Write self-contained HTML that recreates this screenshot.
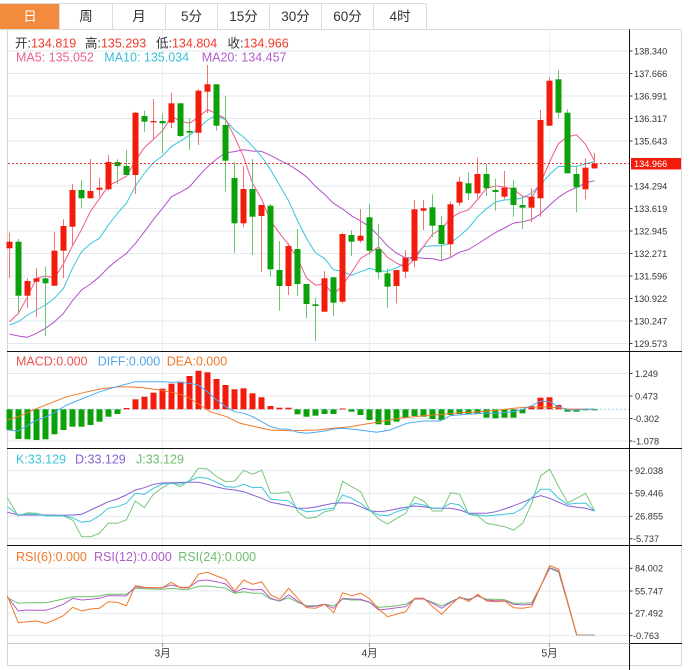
<!DOCTYPE html>
<html><head><meta charset="utf-8">
<style>
html,body{margin:0;padding:0;background:#fff;}
body{width:692px;height:670px;overflow:hidden;}
svg{display:block;font-family:"Liberation Sans","Noto Sans CJK SC",sans-serif;}
</style></head><body>
<svg id="s" width="692" height="670" viewBox="0 0 692 670" xmlns="http://www.w3.org/2000/svg">
<rect width="692" height="670" fill="#fff"/>
<!-- tabs -->
<rect x="0" y="3" width="59.5" height="26.5" fill="#f28b3d"/>
<g stroke="#dcdcdc" stroke-width="1">
<line x1="0" y1="3.5" x2="426.5" y2="3.5"/>
<line x1="59.5" y1="3" x2="59.5" y2="29"/>
<line x1="112.5" y1="3" x2="112.5" y2="29"/>
<line x1="165.5" y1="3" x2="165.5" y2="29"/>
<line x1="217.5" y1="3" x2="217.5" y2="29"/>
<line x1="269.5" y1="3" x2="269.5" y2="29"/>
<line x1="321.5" y1="3" x2="321.5" y2="29"/>
<line x1="373.5" y1="3" x2="373.5" y2="29"/>
<line x1="426.5" y1="3" x2="426.5" y2="29"/>
<line x1="0" y1="29.5" x2="681.5" y2="29.5"/>
</g>
<g font-size="13.5" text-anchor="middle" fill="#333">
<text x="30" y="21" fill="#fff">日</text>
<text x="86" y="21">周</text>
<text x="139" y="21">月</text>
<text x="191.5" y="21">5分</text>
<text x="243.5" y="21">15分</text>
<text x="295.5" y="21">30分</text>
<text x="347.5" y="21">60分</text>
<text x="400" y="21">4时</text>
</g>

<!-- frame -->
<g stroke="#d8d8d8" stroke-width="1" fill="none">
<line x1="7.5" y1="29.5" x2="7.5" y2="666"/>
<line x1="681.5" y1="29.5" x2="681.5" y2="666"/>
<line x1="7" y1="665.5" x2="682" y2="665.5"/>
</g>

<!-- main grid -->
<g stroke="#e2eaef" stroke-width="1">
<line x1="8" y1="51" x2="629" y2="51"/>
<line x1="8" y1="73.5" x2="629" y2="73.5"/>
<line x1="8" y1="96" x2="629" y2="96"/>
<line x1="8" y1="118.5" x2="629" y2="118.5"/>
<line x1="8" y1="141" x2="629" y2="141"/>
<line x1="8" y1="186" x2="629" y2="186"/>
<line x1="8" y1="208.5" x2="629" y2="208.5"/>
<line x1="8" y1="231" x2="629" y2="231"/>
<line x1="8" y1="253.5" x2="629" y2="253.5"/>
<line x1="8" y1="276" x2="629" y2="276"/>
<line x1="8" y1="298.5" x2="629" y2="298.5"/>
<line x1="8" y1="321" x2="629" y2="321"/>
<line x1="8" y1="343.5" x2="629" y2="343.5"/>
<line x1="8" y1="373.5" x2="629" y2="373.5"/>
<line x1="8" y1="396" x2="629" y2="396"/>
<line x1="8" y1="418.5" x2="629" y2="418.5"/>
<line x1="8" y1="441" x2="629" y2="441"/>
<line x1="8" y1="470.7" x2="629" y2="470.7"/>
<line x1="8" y1="493.3" x2="629" y2="493.3"/>
<line x1="8" y1="516.3" x2="629" y2="516.3"/>
<line x1="8" y1="538.7" x2="629" y2="538.7"/>
<line x1="8" y1="568.3" x2="629" y2="568.3"/>
<line x1="8" y1="591" x2="629" y2="591"/>
<line x1="8" y1="613.3" x2="629" y2="613.3"/>
<line x1="8" y1="635.7" x2="629" y2="635.7"/>
</g>
<g stroke="#e8eef1" stroke-width="1">
<line x1="162.5" y1="30" x2="162.5" y2="643"/>
<line x1="369.5" y1="30" x2="369.5" y2="643"/>
<line x1="549.5" y1="30" x2="549.5" y2="643"/>
</g>

<!-- MA lines -->
<g id="ma" fill="none" stroke-width="1"></g>
<!-- candles -->
<g id="candles"></g>

<!-- current price line -->
<line x1="8" y1="163.5" x2="629" y2="163.5" stroke="#e23a2a" stroke-width="1" stroke-dasharray="2,2"/>

<!-- header texts -->
<g font-size="12.5">
<text x="15" y="47.5"><tspan fill="#333">开:</tspan><tspan fill="#f03a2a">134.819</tspan></text>
<text x="85" y="47.5"><tspan fill="#333">高:</tspan><tspan fill="#f03a2a">135.293</tspan></text>
<text x="156" y="47.5"><tspan fill="#333">低:</tspan><tspan fill="#f03a2a">134.804</tspan></text>
<text x="227.5" y="47.5"><tspan fill="#333">收:</tspan><tspan fill="#f03a2a">134.966</tspan></text>
<text x="16" y="61.5" fill="#ea5f8c">MA5: 135.052</text>
<text x="104.3" y="61.5" fill="#3bbfd8">MA10: 135.034</text>
<text x="201.7" y="61.5" fill="#b05ec8">MA20: 134.457</text>
</g>

<!-- MACD -->
<line x1="8" y1="409.3" x2="629" y2="409.3" stroke="#8fd0ea" stroke-width="1" stroke-dasharray="2,2"/>
<g id="macd"></g>
<polyline fill="none" stroke="#f07828" stroke-width="1" points="7.3,420 18.3,416.7 33.3,410 50,403.3 66.7,396.7 83.3,392.7 100,389 116.7,387 126.7,386.7 143.3,387.7 160,390 176.7,393.3 186.7,396.7 200,405 210,411.7 226.7,416.7 240,423.3 260,427.7 270,430 290,430.7 316.7,430 333.3,428.3 350,426.7 360,425 380,421.7 400,418.3 423.3,415.7 443.3,414.3 460,412.7 480,411.7 500,410 513.3,408.3 526.7,407.3 540,406.7 553.3,407.3 567.7,409 594.7,409.3"/>
<polyline fill="none" stroke="#4ea8f0" stroke-width="1" points="7.3,430 18.3,431 33.3,421.7 50,415 66.7,405 83.3,398.3 100,391.7 116.7,386.7 135,381.7 162.3,381.7 171.3,382.3 180.3,382.3 189.3,383.3 198.3,385 207.3,391.7 216.7,400 225.7,406.7 234.7,411.7 243.7,413.3 252.7,416.7 261.7,421.7 270.7,426.7 279.7,429 288.7,429.3 297.7,432.3 306.7,433.3 315.7,432.3 324.7,431 333.7,429 342.7,428.3 360,430 376.7,432.3 390,430 406.7,423.3 423.3,421 440,421 450,415.7 466.7,414.3 483.3,413.3 500,413 513.3,411.7 522.7,409.3 531.7,405.7 540.7,401 549.7,401.7 558.7,406.7 567.7,410 576.7,410 585.7,409.3 594.7,409"/>
<g font-size="12.5">
<text x="16" y="365.7" fill="#ef4f4f">MACD:0.000</text>
<text x="97.7" y="365.7" fill="#4ea8f0">DIFF:0.000</text>
<text x="166.7" y="365.7" fill="#f07828">DEA:0.000</text>
</g>

<!-- KDJ -->
<polyline fill="none" stroke="#7bc67b" stroke-width="1" points="7.3,497.7 18.3,516 27.3,512.7 36.7,513.3 45.7,515.7 63.3,516 72.7,520 81.7,536.7 90.7,536.7 99.3,533.3 108.3,523.3 117.3,523.3 126.3,520 135.3,501 144.3,507.7 153.3,494.3 162.3,487.7 171.3,482.7 180.3,486.7 189.3,480.7 198.3,468.3 207.3,469 216.7,476.7 225.7,481.7 234.7,481 243.7,470.3 252.7,474.3 261.7,470 270.7,493.3 279.7,493.3 288.7,491.7 297.7,511.7 306.7,518.3 315.7,517.3 324.7,511.7 333.7,510 342.7,481.3 351.7,486.7 360.7,491.7 369.7,510 378.7,519 387.7,524 396.7,518.3 405.7,513.3 414.7,496.7 423.7,501 432.7,511 441.7,511 450.7,492.7 459.7,494.3 468.7,514.3 477.7,515.7 486.7,523.3 495.7,525 504.7,526.7 513.7,530 522.7,523.3 531.7,503.3 540.7,475.7 549.7,469.3 558.7,486.7 567.7,502.7 576.7,498.3 585.7,493.3 594.7,511"/>
<polyline fill="none" stroke="#8a5ed2" stroke-width="1" points="7.3,512.3 18.3,515 36.7,515 63.3,515.3 72.7,515 81.7,514.3 90.7,510 99.3,506 108.3,501.7 117.3,499 126.3,495 135.3,490 144.3,487.7 153.3,484.3 162.3,483 171.3,482.7 189.3,482.3 198.3,482.3 207.3,484.3 216.7,487 225.7,489 234.7,490 243.7,491.7 252.7,495 261.7,498.3 270.7,502.3 279.7,504 288.7,505.7 297.7,508.3 306.7,508.3 315.7,507 324.7,505 333.7,503.3 342.7,502.7 351.7,503.3 360.7,506.7 369.7,510.7 378.7,511.7 387.7,510.7 396.7,509 405.7,507.3 414.7,506 423.7,506.7 432.7,508.3 441.7,508.3 450.7,508.3 459.7,510 468.7,513.3 477.7,513.3 486.7,513.3 495.7,511.7 504.7,509 513.7,505.7 522.7,502.3 531.7,498.3 540.7,495.7 549.7,498.3 558.7,502.3 567.7,506 576.7,507.3 585.7,508.3 594.7,511"/>
<polyline fill="none" stroke="#3cc6dc" stroke-width="1" points="7.3,506.7 18.3,515 27.3,514 36.7,514.3 45.7,515.7 54.3,515.7 63.3,515.7 72.7,517.7 81.7,522.3 90.7,521 99.3,515.7 108.3,508.3 117.3,506.7 126.3,503.3 135.3,493.3 144.3,494.3 153.3,488.3 162.3,484 171.3,483.3 180.3,484.3 189.3,481 198.3,477.3 207.3,478.3 216.7,482.3 225.7,486.7 234.7,487.3 243.7,484.3 252.7,487.7 261.7,487.3 270.7,499.3 279.7,500 288.7,501 297.7,508.3 306.7,511.7 315.7,511 324.7,509.3 333.7,508.3 342.7,495 351.7,498.3 360.7,503.3 369.7,510.7 378.7,515 387.7,515.7 396.7,511.7 405.7,509 414.7,503.3 423.7,505 432.7,508.3 441.7,508.3 450.7,503.3 459.7,505 468.7,514 477.7,515 486.7,516 495.7,515 504.7,514.3 513.7,513.3 522.7,508.3 531.7,497.7 540.7,489.3 549.7,489.3 558.7,498.3 567.7,504.3 576.7,503.3 585.7,503.3 594.7,511"/>
<g font-size="12.5">
<text x="16" y="463.3" fill="#3cc6dc">K:33.129</text>
<text x="75" y="463.3" fill="#8a5ed2">D:33.129</text>
<text x="136" y="463.3" fill="#6cbf6c">J:33.129</text>
</g>

<!-- RSI -->
<polyline fill="none" stroke="#6cbf6c" stroke-width="1" points="7.3,597.7 18.3,603.3 27.3,602.7 45.7,602.7 54.3,601 63.3,599 72.7,596.7 90.7,596.7 99.3,596 108.3,594.3 126.3,594.3 135.3,588.3 144.3,588.7 153.3,589 162.3,589.3 171.3,588.3 180.3,589.3 189.3,589.3 198.3,586.3 207.3,586 216.7,587 225.7,588.3 234.7,593.3 243.7,591.7 252.7,593.3 261.7,593.3 270.7,599 279.7,601 288.7,597.7 297.7,602.3 306.7,605.7 315.7,605.7 324.7,604.3 333.7,606 342.7,599 351.7,600 360.7,600 369.7,602.3 378.7,607.3 387.7,606.7 396.7,605.7 405.7,604.3 414.7,599 423.7,599 432.7,602.3 441.7,606 450.7,601.7 459.7,597.7 468.7,599.3 477.7,596 486.7,599.3 495.7,599.3 504.7,599.7 513.7,603.3 522.7,603.3 531.7,602.7 540.7,586 549.7,568.3 558.7,572.3 567.7,603.3 576.7,635 594.7,635"/>
<polyline fill="none" stroke="#b05cc8" stroke-width="1" points="7.3,596.7 18.3,611 27.3,610 36.7,610.3 45.7,610.3 54.3,607.7 63.3,604.3 72.7,598.3 81.7,600 90.7,599.3 99.3,598.3 108.3,595.7 117.3,595.7 126.3,596 135.3,586.7 144.3,587.7 162.3,587.7 171.3,585 180.3,587.3 189.3,587.3 198.3,580.7 207.3,580 216.7,581.7 225.7,584 234.7,592.3 243.7,588.3 252.7,590 261.7,589.3 270.7,598.3 279.7,601 288.7,595 297.7,601 306.7,606.7 315.7,606.3 324.7,604.3 333.7,608.3 342.7,598.3 351.7,599 360.7,599.3 369.7,602.3 378.7,610 387.7,609 396.7,607.7 405.7,606.7 414.7,599 423.7,599 432.7,603.3 441.7,608.3 450.7,602.3 459.7,597.7 468.7,600 477.7,595.7 486.7,600 495.7,600.7 504.7,600.7 513.7,604.3 522.7,605 531.7,604.3 540.7,586 549.7,567.7 558.7,571 567.7,602.3 576.7,635 594.7,635"/>
<polyline fill="none" stroke="#f07828" stroke-width="1" points="7.3,595.7 18.3,622.7 27.3,621.7 36.7,621 45.7,623.3 54.3,620 63.3,615.7 72.7,607.3 81.7,611 90.7,609 99.3,608.3 108.3,601.7 117.3,602.3 126.3,605.7 135.3,585.7 144.3,587.3 153.3,587.7 162.3,587.7 171.3,582.3 180.3,587.7 189.3,587.7 198.3,574.3 207.3,572.3 216.7,576 225.7,579.3 234.7,591 243.7,580 252.7,584.3 261.7,581.7 270.7,595 279.7,599.3 288.7,588.3 297.7,598.3 306.7,607.7 315.7,608.3 324.7,604.3 333.7,612.7 342.7,592.7 351.7,595.7 360.7,593.3 369.7,599 378.7,609 387.7,616.7 396.7,614 405.7,611.7 414.7,598.3 423.7,598.3 432.7,606.7 441.7,614.3 450.7,605 459.7,596.7 468.7,601.7 477.7,594.3 486.7,601 495.7,601.7 504.7,601 513.7,607.7 522.7,608.3 531.7,606.7 540.7,586 549.7,565.7 558.7,569.3 567.7,601.7 576.7,635 594.7,635"/>
<line x1="576.7" y1="635" x2="594.7" y2="635" stroke="#b0ada0" stroke-width="1.2"/>
<g font-size="12.5">
<text x="16" y="561" fill="#f07828">RSI(6):0.000</text>
<text x="94" y="561" fill="#b05cc8">RSI(12):0.000</text>
<text x="178.3" y="561" fill="#6cbf6c">RSI(24):0.000</text>
</g>

<!-- separators -->
<g stroke="#111" stroke-width="1">
<line x1="7" y1="351.5" x2="682" y2="351.5"/>
<line x1="7" y1="448.5" x2="682" y2="448.5"/>
<line x1="7" y1="545.5" x2="682" y2="545.5"/>
<line x1="629.5" y1="643.5" x2="682" y2="643.5"/>
<line x1="629.5" y1="29.5" x2="629.5" y2="670"/>
</g>
<line x1="7" y1="643.5" x2="629.5" y2="643.5" stroke="#c8c8c8" stroke-width="1"/>

<!-- x axis -->
<g stroke="#999" stroke-width="1">
<line x1="162.5" y1="643" x2="162.5" y2="647"/>
<line x1="369.5" y1="643" x2="369.5" y2="647"/>
<line x1="549.5" y1="643" x2="549.5" y2="647"/>
</g>
<g font-size="10.5" fill="#333" text-anchor="middle">
<text x="162.5" y="656.5">3月</text>
<text x="369.5" y="656.5">4月</text>
<text x="549.5" y="656.5">5月</text>
</g>

<!-- y axis ticks -->
<g stroke="#333" stroke-width="1">
<line x1="629" y1="51" x2="632.5" y2="51"/>
<line x1="629" y1="73.5" x2="632.5" y2="73.5"/>
<line x1="629" y1="96" x2="632.5" y2="96"/>
<line x1="629" y1="118.5" x2="632.5" y2="118.5"/>
<line x1="629" y1="141" x2="632.5" y2="141"/>
<line x1="629" y1="186" x2="632.5" y2="186"/>
<line x1="629" y1="208.5" x2="632.5" y2="208.5"/>
<line x1="629" y1="231" x2="632.5" y2="231"/>
<line x1="629" y1="253.5" x2="632.5" y2="253.5"/>
<line x1="629" y1="276" x2="632.5" y2="276"/>
<line x1="629" y1="298.5" x2="632.5" y2="298.5"/>
<line x1="629" y1="321" x2="632.5" y2="321"/>
<line x1="629" y1="343.5" x2="632.5" y2="343.5"/>
<line x1="629" y1="373.5" x2="632.5" y2="373.5"/>
<line x1="629" y1="396" x2="632.5" y2="396"/>
<line x1="629" y1="418.5" x2="632.5" y2="418.5"/>
<line x1="629" y1="441" x2="632.5" y2="441"/>
<line x1="629" y1="470.7" x2="632.5" y2="470.7"/>
<line x1="629" y1="493.3" x2="632.5" y2="493.3"/>
<line x1="629" y1="516.3" x2="632.5" y2="516.3"/>
<line x1="629" y1="538.7" x2="632.5" y2="538.7"/>
<line x1="629" y1="568.3" x2="632.5" y2="568.3"/>
<line x1="629" y1="591" x2="632.5" y2="591"/>
<line x1="629" y1="613.3" x2="632.5" y2="613.3"/>
<line x1="629" y1="635.7" x2="632.5" y2="635.7"/>
</g>
<g font-size="9.2" fill="#333">
<text x="634" y="54.3">138.340</text>
<text x="634" y="76.8">137.666</text>
<text x="634" y="99.3">136.991</text>
<text x="634" y="121.8">136.317</text>
<text x="634" y="144.3">135.643</text>
<text x="634" y="189.3">134.294</text>
<text x="634" y="211.8">133.619</text>
<text x="634" y="234.3">132.945</text>
<text x="634" y="256.8">132.271</text>
<text x="634" y="279.3">131.596</text>
<text x="634" y="301.8">130.922</text>
<text x="634" y="324.3">130.247</text>
<text x="634" y="346.8">129.573</text>
<text x="635" y="376.8">1.249</text>
<text x="635" y="399.3">0.473</text>
<text x="633" y="421.8">-0.302</text>
<text x="633" y="444.3">-1.078</text>
<text x="635" y="474">92.038</text>
<text x="635" y="496.6">59.446</text>
<text x="635" y="519.6">26.855</text>
<text x="633" y="542">-5.737</text>
<text x="635" y="571.6">84.002</text>
<text x="635" y="594.3">55.747</text>
<text x="635" y="616.6">27.492</text>
<text x="633" y="639">-0.763</text>
</g>
<rect x="631" y="158" width="50" height="11.5" fill="#f21b0c"/>
<text x="634" y="167" font-size="9.2" fill="#fff">134.966</text>
</svg>
<script>
(function(){
var C=[
['r',248.3,241.7,232.7,278.3],['g',241.7,295.7,239,313.3],['r',295.7,281,278.3,308.3],['r',281.7,278.3,268.3,317.3],
['g',278.3,283.3,266.7,336],['r',285.7,250.7,231.7,285.7],['r',250.7,226,219.3,278.3],['r',226.7,190,184,245],
['g',190,198.3,180,208.3],['r',198.3,191,159,198.3],['r',189.7,187.7,177.7,196.7],['r',189.3,162,155,190.7],
['g',162,166,159.3,184],['g',166,175,150,175],['r',175,112.7,111.7,194],['g',116,121.7,110.7,131.7],
['r',122,121,99,139],['g',121,123.3,113.3,153.3],['r',122.7,103.3,92.7,128.3],['g',103.3,136,103.3,137.3],
['g',131,132.7,118.3,150],['r',132.7,90.7,89,145],['r',91.7,84.3,65,113.3],['g',84.3,125.7,84.3,130.7],
['g',125,160.7,96,191.7],['g',178,223.3,161.7,252.7],['r',223.3,189,166,227.3],['g',189,216.7,159,255],
['r',216,205,205,271.7],['g',205.7,269.3,204,276.7],['g',270,286,241,310.7],['r',286,246,242.7,295],
['g',249,284,229,296],['g',284,304,284,318.3],['g',304.3,306,297.7,341],['r',311.7,278.3,271,312.3],
['g',277.3,302.7,276.7,316],['r',301.7,234,232.7,303.3],['g',235,241.7,230,256],['r',240.7,235.7,209,242.7],
['g',217.3,250.7,204,255],['g',249,272.3,224,279],['g',273.3,286.7,268.3,307.7],['r',286,270,270,303.3],
['r',271.7,257.7,250,278.3],['r',260.7,209.3,200,267.3],['r',210.7,208.3,200,230],['g',207.3,225.7,194.3,237.3],
['g',225,244,216,260],['r',244.3,204.3,201.7,256.7],['r',202.7,181.7,176.7,205.7],['g',183.3,193.3,172.3,200],
['r',193.3,174,157.7,198.3],['g',174,188.3,164,196],['g',190,192,179,210.7],['r',196.7,187.7,171,199.3],
['g',187.7,205,180,216.7],['g',205,207.7,196.7,229],['r',207.7,196.7,188.3,222.3],['r',198.3,120,110,216.7],
['r',125.7,80.7,77.3,125.7],['g',79.3,112.7,70,118.3],['g',112.7,173.3,109.3,173.3],['g',174,187.3,166,212.3],
['r',189.3,167.7,158.3,199.3],['r',168.4,163.5,152.7,168.7]
];
var NS='http://www.w3.org/2000/svg';
function el(tag,attrs,parent){var e=document.createElementNS(NS,tag);for(var k in attrs)e.setAttribute(k,attrs[k]);parent.appendChild(e);return e;}
function X(i){return Math.round(9.3+9*i);}
var cg=document.getElementById('candles');
C.forEach(function(c,i){
  var x=X(i),o=c[1],cl=c[2],hi=c[3],lo=c[4];
  var col=c[0]==='r'?'#f21b0c':'#0ba10b';
  var wc=c[0]==='r'?'#f3746b':'#6cc76c';
  el('line',{x1:x+0.5,y1:hi,x2:x+0.5,y2:lo,stroke:wc,'stroke-width':1},cg);
  var t=Math.min(o,cl),hh=Math.max(1.3,Math.abs(o-cl));
  el('rect',{x:x-2.5,y:t,width:6,height:hh,fill:col},cg);
});
var cls=C.map(function(c){return c[2];});
function ma(n,early){
  return cls.map(function(_,i){
    if(i<n-1) return early[i];
    var s=0;for(var k=i-n+1;k<=i;k++)s+=cls[k];return s/n;
  });
}
var m5=ma(5,[321.7,313.3,296.7,278.3]);
var m10=ma(10,[325,321.7,315,310,305,298.3,288.3,268.3,251.7]);
var m20=ma(20,[334,336,337.3,333.3,328.3,321.7,313.3,300.7,290,284,276.7,267.3,260,253.3,243.3,231.7,219.3,208.3,196.7]);
var mg=document.getElementById('ma');
function pl(arr,col){
  var p=arr.map(function(v,i){return (X(i)+0.5)+','+v.toFixed(1);}).join(' ');
  el('polyline',{points:p,stroke:col,fill:'none','stroke-width':1},mg);
}
pl(m20,'#b352cc');pl(m10,'#38c6de');pl(m5,'#ef5a8e');
var mb=[430,439,439.3,440,439.3,434.3,430,426.7,426.7,425,421.7,416.7,414,408,399.3,396.7,392.7,388.7,383.7,381.7,376,370.7,372.3,379,385,389.3,388.3,393.3,397.3,406,407.7,407.7,414.3,416.7,415.7,414,414,408.5,411.7,415,420,424.3,425,421.7,417.7,416,416.7,419,420,415,414,414.3,414,417.7,418.3,417.7,417.7,413.3,406,397.7,397.3,405,411.7,411.7,410.3,409.8];
var z=409.3,bg=document.getElementById('macd');
mb.forEach(function(v,i){
  var x=X(i);
  var up=v<z;
  var t=Math.min(v,z),hh=Math.max(1,Math.abs(v-z));
  el('rect',{x:x-2.5,y:t,width:6,height:hh,fill:(up?'#f21b0c':'#0ba10b')},bg);
});
})();
</script>
</body></html>
